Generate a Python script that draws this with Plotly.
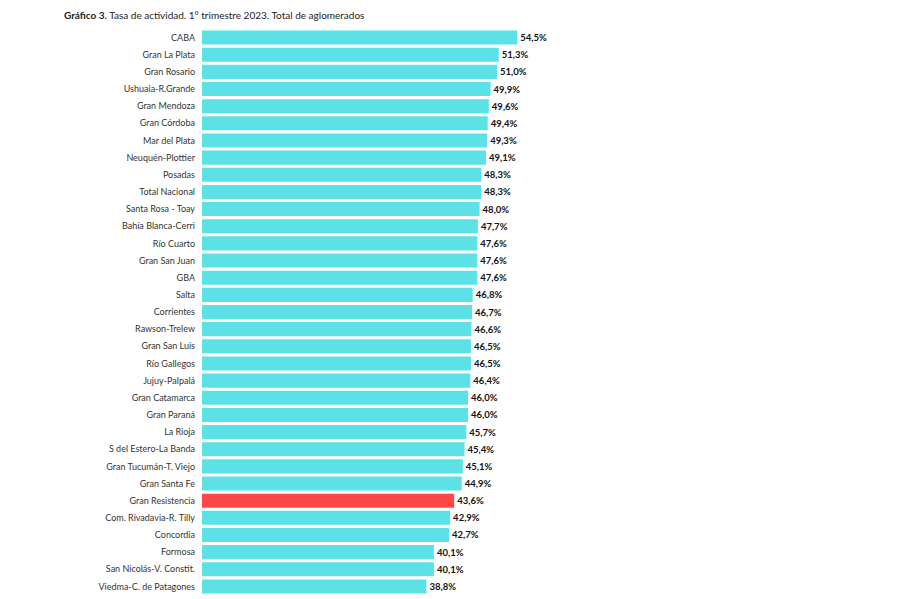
import plotly.graph_objects as go

categories = ["CABA", "Gran La Plata", "Gran Rosario", "Ushuaia-R.Grande", "Gran Mendoza",
              "Gran Córdoba", "Mar del Plata", "Neuquén-Plottier", "Posadas", "Total Nacional",
              "Santa Rosa - Toay", "Bahía Blanca-Cerri", "Río Cuarto", "Gran San Juan", "GBA",
              "Salta", "Corrientes", "Rawson-Trelew", "Gran San Luis", "Río Gallegos",
              "Jujuy-Palpalá", "Gran Catamarca", "Gran Paraná", "La Rioja", "S del Estero-La Banda",
              "Gran Tucumán-T. Viejo", "Gran Santa Fe", "Gran Resistencia", "Com. Rivadavia-R. Tilly",
              "Concordia", "Formosa", "San Nicolás-V. Constit.", "Viedma-C. de Patagones"]
values = [54.5, 51.3, 51.0, 49.9, 49.6, 49.4, 49.3, 49.1, 48.3, 48.3,
          48.0, 47.7, 47.6, 47.6, 47.6, 46.8, 46.7, 46.6, 46.5, 46.5,
          46.4, 46.0, 46.0, 45.7, 45.4, 45.1, 44.9, 43.6, 42.9, 42.7,
          40.1, 40.1, 38.8]
highlight = "Gran Resistencia"

colors = ["#FF4747" if c == highlight else "#5CE1E6" for c in categories]
labels = [("<b>%.1f%%</b>" % v).replace(".", ",") for v in values]

fig = go.Figure(go.Bar(
    x=values, y=categories, orientation="h",
    marker=dict(color=colors, line=dict(width=0)),
    text=labels, textposition="outside", cliponaxis=False,
    textfont=dict(family="Lato, sans-serif", size=9.5, color="#111111"),
))

fig.update_layout(
    width=891, height=591,
    margin=dict(l=194, r=350, t=21, b=4),
    paper_bgcolor="white", plot_bgcolor="white",
    bargap=0.18,
    showlegend=False,
    font=dict(family="Lato, sans-serif", size=9, color="#333333"),
    xaxis=dict(range=[0, 60], visible=False, fixedrange=True),
    yaxis=dict(autorange="reversed", showgrid=False, zeroline=False, showline=False,
               ticks="", ticklabelstandoff=6, tickfont=dict(size=9, color="#333333")),
    annotations=[dict(
        text="<b>Gráfico 3.</b> Tasa de actividad. 1° trimestre 2023. Total de aglomerados",
        xref="paper", yref="paper", x=-(202 - 62) / 347, y=1, yshift=29 - 15,
        xanchor="left", yanchor="middle", showarrow=False,
        font=dict(size=10, color="#222222"),
    )],
)

fig.write_html("out.html")
